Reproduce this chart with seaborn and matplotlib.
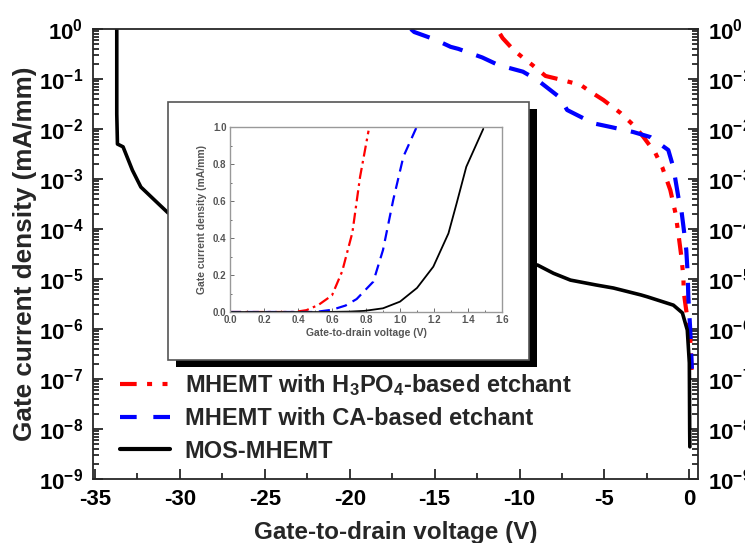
import numpy as np
import pandas as pd
import matplotlib
matplotlib.use("Agg")
import matplotlib.pyplot as plt
from matplotlib.patches import Rectangle
from matplotlib.lines import Line2D
from matplotlib.ticker import MultipleLocator, LogLocator, NullFormatter
import seaborn as sns

# ---------------- data (main panel, log scale) ----------------
mos_v = [-33.72, -33.72, -33.68, -33.35, -32.8, -32.3, -31.5, -30.7,
         -25.0, -20.0, -15.0, -10.0, -8.94, -8.0, -7.0, -5.5, -4.47,
         -2.85, -2.47, -0.94, -0.41, -0.12, 0.0, 0.02, 0.03]
mos_i = [1.0, 2e-2, 5e-3, 4.4e-3, 1.5e-3, 6.9e-4, 3.8e-4, 2.1e-4,
         9e-5, 5e-5, 3.2e-5, 2.1e-5, 1.9e-5, 1.3e-5, 9.5e-6, 7.6e-6, 6.6e-6,
         4.8e-6, 4.4e-6, 3.0e-6, 2.1e-6, 9.5e-7, 2.1e-7, 1e-8, 4.4e-9]

h3po4_v = [-11.15, -11.0, -10.35, -9.76, -9.24, -8.47, -7.47, -6.4, -5.8,
           -5.06, -4.06, -3.18, -2.7, -2.0, -1.59, -1.12, -0.82, -0.65,
           -0.47, -0.35, -0.33, -0.2, 0.05, 0.15]
h3po4_i = [0.8, 0.66, 0.38, 0.26, 0.19, 0.115, 0.095, 0.076, 0.055,
           0.038, 0.021, 0.011, 0.0069, 0.0033, 0.0017, 6e-4, 2.1e-4, 8.3e-5,
           2.8e-5, 1.1e-5, 5.5e-6, 2.6e-6, 7e-7, 1e-7]

ca_v = [-16.4, -16.2, -15.0, -14.06, -13.6, -12.2, -11.24, -9.8, -8.94,
        -7.6, -7.2, -5.65, -4.65, -3.3, -2.3, -1.24, -0.94, -0.65, -0.47,
        -0.3, -0.18, -0.1, -0.06, 0.05, 0.15]
ca_i = [1.0, 0.87, 0.62, 0.44, 0.40, 0.27, 0.19, 0.14, 0.095,
        0.042, 0.024, 0.013, 0.011, 8.7e-3, 6.9e-3, 3.8e-3, 1.7e-3, 4.4e-4, 2.4e-4,
        8.3e-5, 3.8e-5, 1.3e-5, 4.4e-6, 1e-6, 1.6e-7]

# ---------------- data (inset, linear scale) ----------------
in_h3po4_v = [0.0, 0.38, 0.45, 0.52, 0.6, 0.66, 0.72, 0.765, 0.815]
in_h3po4_i = [0.0, 0.0, 0.01, 0.038, 0.09, 0.22, 0.43, 0.73, 0.98]
in_ca_v = [0.0, 0.5, 0.6, 0.68, 0.745, 0.843, 0.90, 0.96, 1.02, 1.098]
in_ca_i = [0.0, 0.0, 0.012, 0.035, 0.07, 0.164, 0.335, 0.605, 0.84, 1.0]
in_mos_v = [0.0, 0.55, 0.7, 0.79, 0.9, 1.0, 1.1, 1.196, 1.285, 1.333, 1.39, 1.49]
in_mos_i = [0.0, 0.0, 0.002, 0.006, 0.02, 0.056, 0.13, 0.245, 0.425, 0.587, 0.785, 0.99]

labels = [r"MHEMT with H$_3$PO$_4$-based etchant",
          "MHEMT with CA-based etchant",
          "MOS-MHEMT"]
x_ticks = [-35, -30, -25, -20, -15, -10, -5, 0]
inset_x_ticks = [0.0, 0.2, 0.4, 0.6, 0.8, 1.0, 1.2, 1.4, 1.6]
inset_y_ticks = [0.0, 0.2, 0.4, 0.6, 0.8, 1.0]

# ---------------- style ----------------
sns.set_style("ticks")
plt.rcParams["font.family"] = ["Liberation Sans", "DejaVu Sans"]
plt.rcParams["font.weight"] = "bold"
plt.rcParams["mathtext.default"] = "regular"

RED, BLUE, BLACK = "#ff0000", "#0000ff", "#000000"
W, H = 745, 543

fig = plt.figure(figsize=(W / 100, H / 100), dpi=100)
fig.patch.set_facecolor("white")

def fx(px):
    return px / W

def fy(py):
    return 1 - py / H

L, R, T, B = 93, 698, 29, 479
ax = fig.add_axes([fx(L), fy(B), (R - L) / W, (B - T) / H])
ax.set_yscale("log")

main = pd.DataFrame({
    "v": h3po4_v + ca_v + mos_v,
    "i": h3po4_i + ca_i + mos_i,
    "s": ["h"] * len(h3po4_v) + ["c"] * len(ca_v) + ["m"] * len(mos_v),
})
sns.lineplot(data=main[main.s == "h"], x="v", y="i", sort=False, estimator=None,
             color=RED, lw=3.0, ax=ax)
ax.lines[-1].set_dashes([4, 2.5, 1.2, 2.5, 1.2, 2.5])
sns.lineplot(data=main[main.s == "c"], x="v", y="i", sort=False, estimator=None,
             color=BLUE, lw=3.0, ax=ax)
ax.lines[-1].set_dashes([5, 3.5])
sns.lineplot(data=main[main.s == "m"], x="v", y="i", sort=False, estimator=None,
             color=BLACK, lw=2.6, ax=ax)

ax.set_xlim(-35.12, 0.51)
ax.set_ylim(1e-9, 1)
ax.set_xticks(x_ticks)
ax.set_xticklabels([str(t) for t in x_ticks])
ax.xaxis.set_minor_locator(MultipleLocator(2.5))
ax.yaxis.set_major_locator(LogLocator(base=10, numticks=20))
ax.yaxis.set_minor_locator(LogLocator(base=10, subs=np.arange(2, 10), numticks=20))
ax.yaxis.set_minor_formatter(NullFormatter())
ax.tick_params(which="both", direction="in", top=False, right=True,
               labelright=True, width=1.1, labelsize=16, colors="black")
ax.tick_params(which="major", length=7, pad=7)
ax.tick_params(which="minor", length=4)
for lab in ax.get_xticklabels() + ax.get_yticklabels():
    lab.set_fontweight("bold")
for sp in ax.spines.values():
    sp.set_linewidth(1.3)
    sp.set_visible(True)
ax.set_xlabel("Gate-to-drain voltage (V)", fontsize=17.5, fontweight="bold", labelpad=8)
ax.set_ylabel("Gate current density (mA/mm)", fontsize=18.8, fontweight="bold", labelpad=1)

handles = [
    Line2D([], [], color=RED, lw=3.0, dashes=[4, 2.5, 1.2, 2.5, 1.2, 2.5]),
    Line2D([], [], color=BLUE, lw=3.0, dashes=[4, 4]),
    Line2D([], [], color=BLACK, lw=3.0),
]
ax.legend(handles, labels, loc="upper left", bbox_to_anchor=(0.044, 0.238),
          frameon=False, borderpad=0, borderaxespad=0, handlelength=2.12,
          handletextpad=0.64, labelspacing=0.4,
          prop={"weight": "bold", "size": 17})

# ---------------- inset box with shadow ----------------
shadow = Rectangle((fx(176), fy(367)), (537 - 176) / W, (367 - 109) / H,
                   transform=fig.transFigure, facecolor="black",
                   edgecolor="none", zorder=1.5)
box = Rectangle((fx(168), fy(360)), (529 - 168) / W, (360 - 102) / H,
                transform=fig.transFigure, facecolor="white",
                edgecolor="#555555", lw=1.2, zorder=2)
fig.add_artist(shadow)
fig.add_artist(box)

iL, iR, iT, iB = 230, 502, 127, 312
ia = fig.add_axes([fx(iL), fy(iB), (iR - iL) / W, (iB - iT) / H], zorder=3)
GRAY = "#555555"
sns.lineplot(x=in_h3po4_v, y=in_h3po4_i, sort=False, estimator=None,
             color=RED, lw=1.6, ax=ia)
ia.lines[-1].set_dashes([5, 2, 1.2, 2])
sns.lineplot(x=in_ca_v, y=in_ca_i, sort=False, estimator=None,
             color=BLUE, lw=1.6, ax=ia)
ia.lines[-1].set_dashes([5, 3])
sns.lineplot(x=in_mos_v, y=in_mos_i, sort=False, estimator=None,
             color=BLACK, lw=1.3, ax=ia)
ia.set_xlim(0, 1.6)
ia.set_ylim(0, 1.0)
ia.set_xticks(inset_x_ticks)
ia.set_xticklabels([f"{t:.1f}" for t in inset_x_ticks])
ia.set_yticks(inset_y_ticks)
ia.set_yticklabels([f"{t:.1f}" for t in inset_y_ticks])
ia.xaxis.set_minor_locator(MultipleLocator(0.1))
ia.yaxis.set_minor_locator(MultipleLocator(0.1))
ia.tick_params(which="both", direction="in", labelsize=7, colors=GRAY,
               width=0.6, pad=2.5)
ia.tick_params(which="major", length=3)
ia.tick_params(which="minor", length=1.5)
for lab in ia.get_xticklabels() + ia.get_yticklabels():
    lab.set_fontweight("bold")
for sp in ia.spines.values():
    sp.set_color("#999999")
    sp.set_linewidth(1.0)
ia.set_xlabel("Gate-to-drain voltage (V)", fontsize=7.5, fontweight="bold",
              color=GRAY, labelpad=2)
ia.set_ylabel("Gate current density (mA/mm)", fontsize=7.5, fontweight="bold",
              color=GRAY, labelpad=4)

fig.savefig("out.png", dpi=100)
